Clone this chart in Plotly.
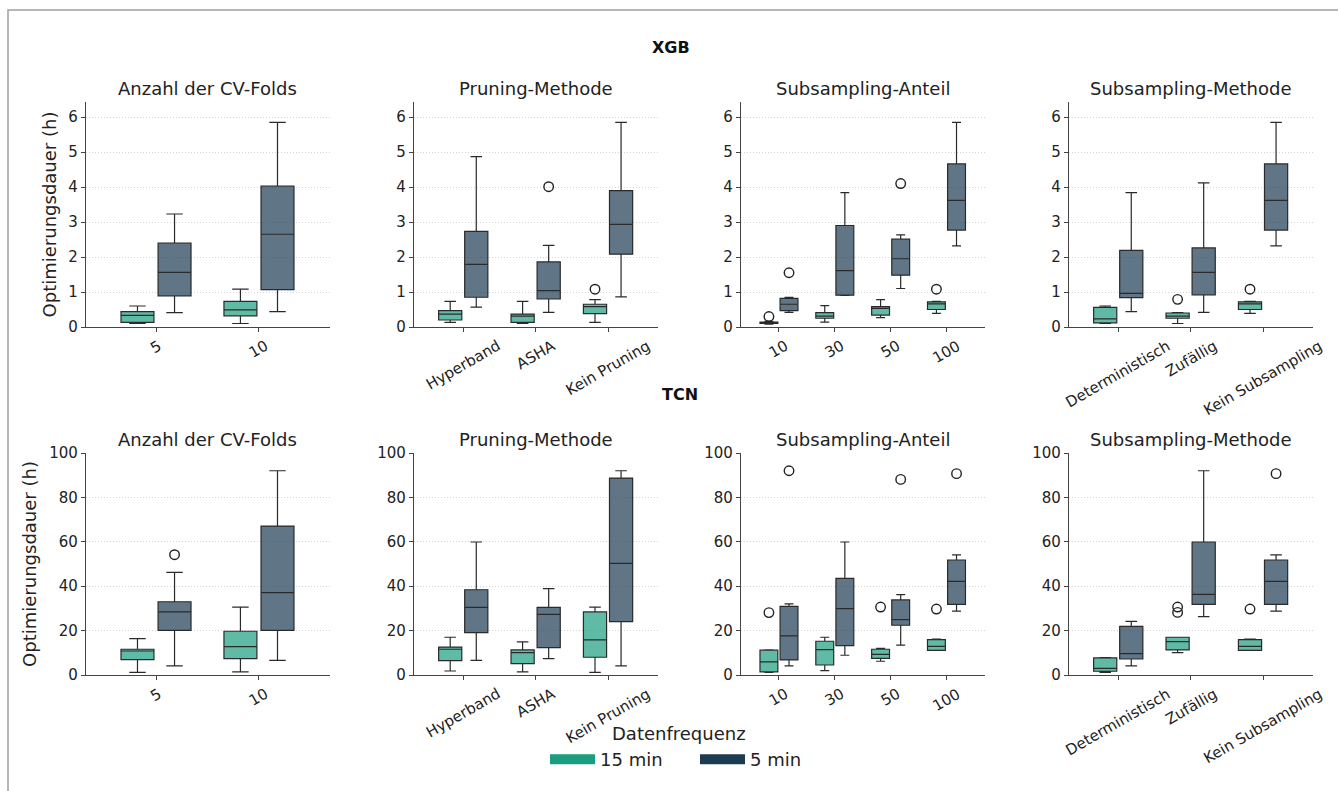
import plotly.graph_objects as go

# ---------------- categories ----------------
cv_folds = ["5", "10"]
pruning = ["Hyperband", "ASHA", "Kein Pruning"]
subs_share = ["10", "30", "50", "100"]
subs_method = ["Deterministisch", "Zufällig", "Kein Subsampling"]

panel_titles = ["Anzahl der CV-Folds", "Pruning-Methode", "Subsampling-Anteil", "Subsampling-Methode"]
row_titles = ["XGB", "TCN"]
series_names = ["15 min", "5 min"]
legend_title = "Datenfrequenz"
y_title = "Optimierungsdauer (h)"

# ---------------- values: (lower whisker, q1, median, q3, upper whisker) per category ----------------
# XGB
xgb_cv_15 = [(0.10, 0.13, 0.33, 0.44, 0.60), (0.10, 0.32, 0.49, 0.73, 1.08)]
xgb_cv_5 = [(0.41, 0.89, 1.56, 2.40, 3.23), (0.44, 1.07, 2.65, 4.03, 5.85)]
xgb_cv_15_out = []
xgb_cv_5_out = []

xgb_pr_15 = [(0.13, 0.20, 0.37, 0.47, 0.73), (0.10, 0.13, 0.31, 0.37, 0.73), (0.13, 0.38, 0.58, 0.65, 0.78)]
xgb_pr_5 = [(0.57, 0.85, 1.79, 2.73, 4.87), (0.42, 0.80, 1.04, 1.86, 2.33), (0.86, 2.08, 2.93, 3.90, 5.85)]
xgb_pr_15_out = [(2, 1.08)]
xgb_pr_5_out = [(1, 4.01)]

xgb_sh_15 = [(0.08, 0.10, 0.12, 0.14, 0.16), (0.14, 0.25, 0.31, 0.41, 0.61),
             (0.27, 0.34, 0.53, 0.58, 0.78), (0.39, 0.50, 0.66, 0.72, 0.73)]
xgb_sh_5 = [(0.42, 0.47, 0.65, 0.82, 0.85), (0.90, 0.91, 1.61, 2.90, 3.84),
            (1.10, 1.48, 1.95, 2.51, 2.63), (2.32, 2.77, 3.62, 4.66, 5.85)]
xgb_sh_15_out = [(0, 0.30), (3, 1.08)]
xgb_sh_5_out = [(0, 1.55), (2, 4.10)]

xgb_me_15 = [(0.10, 0.12, 0.23, 0.56, 0.60), (0.10, 0.25, 0.31, 0.40, 0.41), (0.39, 0.50, 0.66, 0.72, 0.73)]
xgb_me_5 = [(0.44, 0.84, 0.96, 2.19, 3.84), (0.42, 0.92, 1.56, 2.26, 4.12), (2.32, 2.77, 3.62, 4.66, 5.85)]
xgb_me_15_out = [(1, 0.79), (2, 1.08)]
xgb_me_5_out = []

# TCN
tcn_cv_15 = [(1.2, 6.9, 10.8, 11.6, 16.4), (1.4, 7.4, 12.8, 19.7, 30.6)]
tcn_cv_5 = [(4.1, 20.1, 28.4, 33.0, 46.2), (6.6, 20.1, 37.1, 67.1, 92.0)]
tcn_cv_15_out = []
tcn_cv_5_out = [(0, 54.2)]

tcn_pr_15 = [(1.8, 6.5, 11.6, 12.6, 17.0), (1.4, 5.1, 10.1, 11.3, 14.9), (1.2, 8.0, 15.8, 28.4, 30.6)]
tcn_pr_5 = [(6.6, 19.1, 30.5, 38.4, 59.9), (7.4, 12.3, 27.3, 30.5, 38.9), (4.1, 24.0, 50.3, 88.7, 92.0)]
tcn_pr_15_out = []
tcn_pr_5_out = []

tcn_sh_15 = [(1.2, 1.4, 5.9, 11.2, 11.3), (2.0, 4.5, 11.4, 15.2, 17.0),
             (6.2, 7.5, 9.3, 11.6, 12.0), (11.1, 11.1, 12.9, 15.9, 16.2)]
tcn_sh_5 = [(4.1, 6.8, 17.6, 30.9, 32.0), (8.9, 13.2, 29.9, 43.5, 59.9),
            (13.5, 22.4, 24.9, 33.8, 36.2), (28.8, 31.8, 42.2, 51.8, 54.1)]
tcn_sh_15_out = [(0, 28.1), (2, 30.6), (3, 29.7)]
tcn_sh_5_out = [(0, 92.0), (2, 88.1), (3, 90.7)]

tcn_me_15 = [(1.2, 1.7, 3.0, 7.7, 7.8), (10.1, 11.3, 15.0, 17.0, 17.0), (11.1, 11.1, 12.9, 15.9, 16.2)]
tcn_me_5 = [(4.1, 7.2, 9.6, 21.9, 24.2), (26.3, 31.8, 36.3, 59.9, 92.0), (28.8, 31.8, 42.2, 51.8, 54.1)]
tcn_me_15_out = [(1, 30.6), (1, 28.2), (2, 29.7)]
tcn_me_5_out = [(2, 90.7)]

y_ranges = [[0, 6.43], [0, 100]]
y_ticks = [[0, 1, 2, 3, 4, 5, 6], [0, 20, 40, 60, 80, 100]]

panels = [
    (cv_folds, xgb_cv_15, xgb_cv_5, xgb_cv_15_out, xgb_cv_5_out),
    (pruning, xgb_pr_15, xgb_pr_5, xgb_pr_15_out, xgb_pr_5_out),
    (subs_share, xgb_sh_15, xgb_sh_5, xgb_sh_15_out, xgb_sh_5_out),
    (subs_method, xgb_me_15, xgb_me_5, xgb_me_15_out, xgb_me_5_out),
    (cv_folds, tcn_cv_15, tcn_cv_5, tcn_cv_15_out, tcn_cv_5_out),
    (pruning, tcn_pr_15, tcn_pr_5, tcn_pr_15_out, tcn_pr_5_out),
    (subs_share, tcn_sh_15, tcn_sh_5, tcn_sh_15_out, tcn_sh_5_out),
    (subs_method, tcn_me_15, tcn_me_5, tcn_me_15_out, tcn_me_5_out),
]

# ---------------- styling ----------------
W, H = 1338, 791
FONT = "DejaVu Sans"
TEXT = "#222222"
AX = "#444444"
COLORS = ["#1b9e7f", "#1d3c52"]
FILLS = ["rgba(27,158,127,0.7)", "rgba(29,60,82,0.7)"]
OFFSETS = [-0.18, 0.18]
BOX_W = 0.32

col_px = [(86, 330), (414, 658), (741, 985), (1069, 1313)]
row_px = [(102, 327), (453, 675)]


def px_x(p):
    return p / W


def px_y(p):
    return 1 - p / H


fig = go.Figure()
layout = dict(
    width=W, height=H,
    margin=dict(l=0, r=0, t=0, b=0, pad=0, autoexpand=False),
    paper_bgcolor="white", plot_bgcolor="white",
    font=dict(family=FONT, color=TEXT, size=15),
    showlegend=True,
    boxmode="overlay",
)
annotations = []

for k, (cats, s15, s5, o15, o5) in enumerate(panels):
    r, c = divmod(k, 4)
    ax_id = "" if k == 0 else str(k + 1)
    xref, yref = "x" + ax_id, "y" + ax_id
    n = len(cats)
    for si, (stats, outs) in enumerate([(s15, o15), (s5, o5)]):
        pos = [i + OFFSETS[si] for i in range(n)]
        fig.add_trace(go.Box(
            x=pos,
            lowerfence=[s[0] for s in stats],
            q1=[s[1] for s in stats],
            median=[s[2] for s in stats],
            q3=[s[3] for s in stats],
            upperfence=[s[4] for s in stats],
            width=BOX_W, whiskerwidth=0.5,
            fillcolor=FILLS[si],
            line=dict(color="#2a2a2a", width=1.2),
            name=series_names[si], legendgroup=series_names[si],
            showlegend=False, hoverinfo="skip",
            xaxis=xref, yaxis=yref,
        ))
        if outs:
            fig.add_trace(go.Scatter(
                x=[o[0] + OFFSETS[si] for o in outs],
                y=[o[1] for o in outs],
                mode="markers",
                marker=dict(symbol="circle-open", size=9.5, color="#222222", line=dict(width=1.4)),
                showlegend=False, hoverinfo="skip",
                xaxis=xref, yaxis=yref,
            ))
    x0, x1 = col_px[c]
    yt, yb = row_px[r]
    layout["xaxis" + ax_id] = dict(
        domain=[px_x(x0), px_x(x1)], anchor=yref,
        range=[-0.68, n - 1 + 0.69],
        tickmode="array", tickvals=list(range(n)), showticklabels=False,
        ticks="outside", ticklen=4, tickwidth=1.2, tickcolor=AX,
        showline=True, linecolor=AX, linewidth=1.2,
        showgrid=False, zeroline=False, fixedrange=True, automargin=False,
    )
    ydict = dict(
        domain=[px_y(yb), px_y(yt)], anchor=xref,
        range=y_ranges[r],
        tickmode="array", tickvals=y_ticks[r],
        ticks="outside", ticklen=4, tickwidth=1.2, tickcolor=AX,
        tickfont=dict(size=15, color=TEXT),
        showline=True, linecolor=AX, linewidth=1.2,
        showgrid=True, gridcolor="#d4d4d4", griddash="1px,2px", gridwidth=1,
        zeroline=False, fixedrange=True, automargin=False,
    )
    if c == 0:
        ydict["title"] = dict(text=y_title, font=dict(size=18, color=TEXT), standoff=7)
    layout["yaxis" + ax_id] = ydict

    # subplot title
    annotations.append(dict(
        text=panel_titles[c], x=px_x((x0 + x1) / 2), y=px_y(yt - 14),
        xref="paper", yref="paper", xanchor="center", yanchor="middle",
        showarrow=False, font=dict(size=18, color=TEXT),
    ))
    # category labels (rotated, centred on tick)
    for i, lab in enumerate(cats):
        annotations.append(dict(
            text=lab, x=i, xref=xref, y=px_y(yb + 7), yref="paper",
            xanchor="center", yanchor="top", textangle=-30,
            showarrow=False, font=dict(size=15, color=TEXT),
        ))

# row titles
annotations.append(dict(text="<b>" + row_titles[0] + "</b>", x=px_x(671), y=px_y(47),
                        xref="paper", yref="paper", xanchor="center", yanchor="middle",
                        showarrow=False, font=dict(size=16, color="#111111")))
annotations.append(dict(text="<b>" + row_titles[1] + "</b>", x=px_x(680), y=px_y(395),
                        xref="paper", yref="paper", xanchor="center", yanchor="middle",
                        showarrow=False, font=dict(size=16, color="#111111")))
# legend title
annotations.append(dict(text=legend_title, x=px_x(679), y=px_y(733),
                        xref="paper", yref="paper", xanchor="center", yanchor="middle",
                        showarrow=False, font=dict(size=18, color=TEXT)))

# legend entries
for si in range(2):
    fig.add_trace(go.Scatter(
        x=[None], y=[None], mode="lines",
        line=dict(color=COLORS[si], width=14),
        name=series_names[si], legendgroup=series_names[si], showlegend=True,
    ))

layout["annotations"] = annotations
layout["legend"] = dict(
    orientation="h", x=px_x(545), xanchor="left", y=px_y(741), yanchor="top",
    font=dict(size=18, color=TEXT), bgcolor="rgba(0,0,0,0)", itemwidth=45,
    entrywidth=90, tracegroupgap=0,
)
layout["shapes"] = [dict(
    type="rect", xref="paper", yref="paper",
    x0=px_x(8), x1=1.02, y0=-0.02, y1=px_y(10),
    line=dict(color="#a0a0a0", width=1.5), fillcolor="rgba(0,0,0,0)", layer="above",
)]

fig.update_layout(**layout)
fig.write_html(
    "out.html",
    config={"displayModeBar": False},
    post_script="document.body.style.margin='0';document.body.style.overflow='hidden';",
)
